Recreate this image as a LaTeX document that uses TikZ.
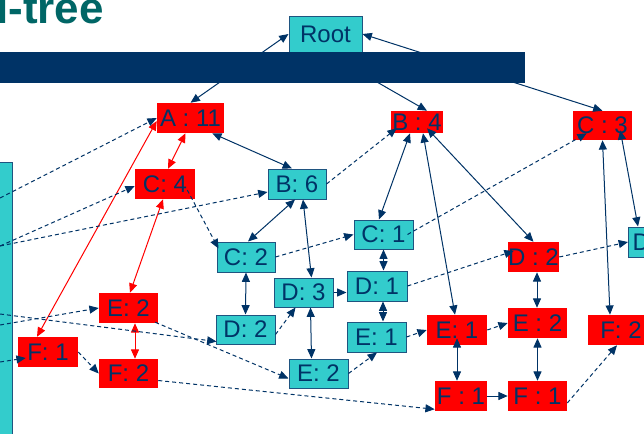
\documentclass[tikz,border=0pt]{standalone}
\usepackage{fontspec}
\setmainfont{Liberation Sans}
\usetikzlibrary{arrows.meta,calc}
\definecolor{navy}{RGB}{0,51,102}
\definecolor{tealfill}{RGB}{51,204,204}
\definecolor{tealline}{RGB}{31,84,128}
\definecolor{titlecol}{RGB}{0,102,102}
\definecolor{redbox}{RGB}{255,0,0}
\newcommand\boxfnt{\fontsize{18}{20}\selectfont}
\begin{document}
\begin{tikzpicture}[x=0.75pt,y=-0.75pt,
  >={Triangle[length=7pt,width=6pt]},
  tbox/.style={draw=tealline, line width=0.75pt, fill=tealfill, inner sep=0pt, text=navy, font=\boxfnt},
  rbox/.style={fill=redbox, inner sep=0pt, text=navy, font=\boxfnt},
  sz/.style 2 args={minimum width=#1, minimum height=#2},
  sl/.style={draw=navy, line width=0.75pt, <->},
  dl/.style={draw=navy, line width=0.75pt, dash pattern=on 3pt off 2.25pt, ->},
  rl/.style={draw=red, line width=0.75pt, <->}]
\useasboundingbox (0,0) rectangle (644,433);
\clip (0,0) rectangle (644,433);
\fill[white] (0,0) rectangle (644,433);
% title
\node[anchor=base west, text=titlecol, inner sep=0pt, font=\bfseries\fontsize{33}{36}\selectfont] (title) at (-4,23) {l-tree};
% header column
\filldraw[fill=tealfill, draw=tealline, line width=0.75pt] (-5,162) rectangle (12,440);
% nodes
\node[tbox, sz={54.75pt}{27pt}] (Root) at (325.5,34) {Root};
\node[rbox, sz={50.25pt}{22.5pt}] (A) at (190.5,118) {A : 11};
\node[rbox, sz={45pt}{22.5pt}] (C4) at (165,184) {C: 4};
\node[tbox, sz={43.5pt}{22.5pt}] (B6) at (297,184) {B: 6};
\node[rbox, sz={39pt}{16.5pt}] (B4) at (417,122) {B : 4};
\node[rbox, sz={44.25pt}{21.75pt}] (C3) at (602.5,125.5) {C : 3};
\node[tbox, anchor=west, minimum height=22.5pt, text width=33pt, inner xsep=3pt, align=left] (Dt) at (628,242) {D};
\node[tbox, sz={43.5pt}{22.5pt}] (C2) at (246,257) {C: 2};
\node[tbox, sz={44.25pt}{21.75pt}] (C1) at (383.5,234.5) {C: 1};
\node[tbox, sz={44.25pt}{21.75pt}] (D3) at (303.5,292.5) {D: 3};
\node[tbox, sz={45pt}{22.5pt}] (D1) at (377,286) {D: 1};
\node[tbox, sz={44.25pt}{21.75pt}] (D2t) at (245.5,329.5) {D: 2};
\node[tbox, sz={44.25pt}{22.5pt}] (E1t) at (376.5,337) {E: 1};
\node[tbox, sz={44.25pt}{21.75pt}] (E2t) at (318.5,373.5) {E: 2};
\node[rbox, sz={44.25pt}{22.5pt}] (E2r) at (128.5,308) {E: 2};
\node[rbox, sz={45pt}{22.5pt}] (F1r) at (48,352) {F: 1};
\node[rbox, sz={44.25pt}{21.75pt}] (F2r) at (128.5,373.5) {F: 2};
\node[rbox, sz={45pt}{22.5pt}] (E1r) at (457,330) {E: 1};
\node[rbox, sz={44.25pt}{22.5pt}] (E2rr) at (537.5,323) {E : 2};
\node[rbox, sz={38.25pt}{22.5pt}] (D2r) at (533.5,257) {D : 2};
\node[rbox, sz={49.5pt}{22.5pt}] (F2rr) at (621,330) {F: 2};
\node[rbox, sz={39pt}{22.5pt}] (F1a) at (461,396) {F : 1};
\node[rbox, sz={44.25pt}{22.5pt}] (F1b) at (537.5,396) {F : 1};
% free ends at the left edge
\coordinate (lA) at (0,198);
\coordinate (lCB) at (0,246);
\coordinate (lD) at (0,314);
\coordinate (lE) at (0,325);
\coordinate (lF) at (0,362);
% solid links
\draw[sl] (A.north) -- (Root.west);
\draw[draw=navy,line width=0.75pt,->] (Root.south) -- ($(B4.north)+(10,0)$);
\draw[sl] (Root.east) -- (C3.north);
\draw[sl] ($(A.south east)+(-12,0)$) -- ($(B6.north)+(-5,0)$);
\draw[sl] ($(B6.south)+(-2,0)$) -- ($(C2.north)+(2,0)$);
\draw[sl] ($(B6.south)+(6,0)$) -- ($(D3.north)+(8,0)$);
\draw[sl] (C2.south) -- (D2t.north);
\draw[sl,->] (D3.east) -- (D3.east -| D1.west);
\draw[sl] ($(D3.south)+(7,0)$) -- ($(E2t.north)+(-7,0)$);
\draw[sl] (C1.south) -- (C1.south |- D1.north);
\draw[sl] ($(D1.south)+(6,0)$) -- ($(E1t.north)+(6.5,0)$);
\draw[sl] ($(B4.south)+(-7,0)$) -- ($(C1.north)+(-4.5,0)$);
\draw[sl] ($(B4.south)+(6,0)$) -- ($(E1r.north)+(-2,0)$);
\draw[sl] ($(B4.south)+(10,-5)$) -- (D2r.north);
\draw[sl] (C3.south) -- ($(F2rr.north)+(-11,0)$);
\draw[sl] ($(C3.south east)+(-12,-10)$) -- ($(Dt.north west)+(10,0)$);
\draw[sl] ($(D2r.south)+(3.5,0)$) -- ($(E2rr.north)+(-0.5,0)$);
\draw[sl] (E2rr.south) -- (F1b.north);
\draw[sl] ($(E1r.south)+(0,-7)$) -- ($(F1a.north)+(-4,0)$);
\draw[sl,->] (F1a.east) -- (F1b.west);
% red links
\draw[rl] ($(A.south)+(-5,0)$) -- ($(C4.north)+(3,0)$);
\draw[rl] ($(C4.south)+(-2,0)$) -- ($(E2r.north)+(1.5,0)$);
\draw[rl] ($(A.west)+(0,3)$) -- ($(F1r.north)+(-11,0)$);
\draw[rl] ($(E2r.south)+(6.5,0)$) -- ($(F2r.north)+(6.5,0)$);
% dashed links
\draw[dl] (lA) -- (A.west);
\draw[dl] (lCB) -- ($(C4.west)+(0,2)$);
\draw[dl] (lCB) -- ($(B6.west)+(0,8)$);
\draw[dl] (lE) -- (E2r.west);
\draw[dl] (lF) -- ($(F1r.west)+(8,6)$);
\draw[dl] (lD) -- ($(D2t.south west)+(1,-3)$);
\draw[dl] ($(E2r.south east)+(-3,-1)$) -- ($(E2t.west)+(0,5)$);
\draw[dl] (F1r.east) -- (F2r.west);
\draw[dl] ($(F2r.east)+(0,7)$) -- ($(F1a.south west)+(0,-2)$);
\draw[dl] (B6.east) -- ($(B4.south west)+(6,-5)$);
\draw[dl] (C2.east) -- (C1.west);
\draw[dl] ($(C4.east)+(-8,6)$) -- ($(C2.north west)+(2,7)$);
\draw[dl] ($(C1.east)+(-6,0)$) -- ($(C3.south west)+(14,-7)$);
\draw[dl] (D1.east) -- ($(D2r.west)+(6,-6)$);
\draw[dl] (D2r.east) -- (Dt.west);
\draw[dl] ($(D2t.east)+(0,5)$) -- ($(D3.south west)+(22,0)$);
\draw[dl] (E2t.east) -- ($(E1t.south)+(0.5,0)$);
\draw[dl] (E1t.east) -- (E1r.west);
\draw[dl] (E1r.east) -- (E2rr.west);
\draw[dl] ($(F1b.east)+(0,7)$) -- ($(F2rr.south)+(-4,0)$);
% banner bar over the root links
\fill[navy] (-5,52) rectangle (525,83);
\end{tikzpicture}
\end{document}
